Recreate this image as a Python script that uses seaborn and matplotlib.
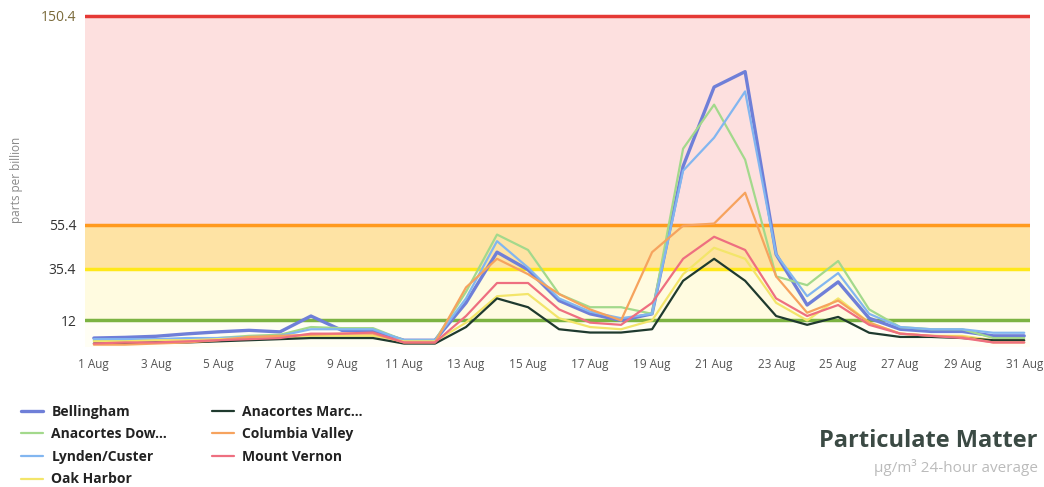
import matplotlib
matplotlib.use("Agg")
import matplotlib.pyplot as plt
import numpy as np
import pandas as pd
import seaborn as sns

sns.set_theme(style="white")
plt.rcParams["font.family"] = ["Open Sans", "DejaVu Sans"]

days = list(range(1, 32))
tick_days = list(range(1, 32, 2))
tick_labels = ["{} Aug".format(d) for d in tick_days]

stations = [
    "Bellingham", "Anacortes Dow...", "Lynden/Custer", "Oak Harbor",
    "Anacortes Marc...", "Columbia Valley", "Mount Vernon",
]

# daily 24-hour averages
bellingham = [4, 4.3, 4.8, 5.9, 6.8, 7.5, 6.8, 14, 7.5, 7.2, 3, 3,
              20, 43, 35, 21, 15, 12, 15, 82, 118, 125, 42, 19,
              29.5, 13, 8, 7, 7, 5, 5]
anacortes_dow = [3, 3, 3, 3, 4, 5, 5.5, 9, 8.5, 8.5, 3, 3,
                 25, 51, 44, 24, 18, 18, 15, 90, 110, 85, 32, 28,
                 39, 17, 9, 8, 8, 4, 4]
lynden = [3.5, 3.5, 3.5, 4, 4, 4.5, 5, 8, 8, 8, 3, 3,
          22, 48, 36, 22, 16, 13, 15, 80, 95, 116, 42, 23,
          33.5, 15, 9, 8, 8, 6.4, 6.4]
oak_harbor = [2.5, 2.5, 3, 3, 3.5, 4, 4, 5, 5, 5, 2.5, 2.5,
              11, 23, 24, 13, 9, 8, 12, 33, 45, 40, 20, 12,
              22, 11, 6, 5, 5, 3, 3]
anacortes_marc = [1.5, 1.5, 2, 2, 2.5, 3, 3.5, 4, 4, 4, 1.5, 1.5,
                  9, 22, 18, 8, 6.5, 6.5, 8, 30, 40, 30, 14, 10,
                  13.6, 6.4, 4.5, 4.5, 4, 3, 3]
columbia_valley = [1, 1, 1.5, 2, 3, 4.5, 5, 5.5, 6, 6, 2, 2,
                   27, 40, 33, 24, 17, 12, 43, 55, 56, 70, 32, 15.5,
                   21, 11, 6, 5, 4.5, 2, 2]
mount_vernon = [1.5, 2, 2, 2.5, 3, 3.5, 4, 6, 6, 6.5, 2, 2,
                14, 29, 29, 17, 11, 10, 20, 40, 50, 44, 22, 14,
                19, 10, 6, 5, 4, 2, 2]

series = [bellingham, anacortes_dow, lynden, oak_harbor,
          anacortes_marc, columbia_valley, mount_vernon]

palette = {
    "Bellingham": "#6f7fd8",
    "Anacortes Dow...": "#a3d98c",
    "Lynden/Custer": "#82b6f0",
    "Oak Harbor": "#f3e56a",
    "Anacortes Marc...": "#1f3a2e",
    "Columbia Valley": "#f6a35e",
    "Mount Vernon": "#ee6f80",
}

# AQI-style thresholds
levels = [12, 35.4, 55.4, 150.4]
level_colors = ["#7cb342", "#ffe81a", "#ff9a1f", "#e53935"]
band_colors = ["#fffef4", "#fffbe0", "#fee3a4", "#fde0df"]

rows = []
for name, vals in zip(stations, series):
    for d, v in zip(days, vals):
        rows.append({"Day": d, "Value": v, "Station": name})
data = pd.DataFrame(rows)

fig = plt.figure(figsize=(10.44, 4.87), dpi=100)
ax = fig.add_axes([0.081, 0.281, 0.906, 0.694])

lo = 0
for lvl, bc in zip(levels, band_colors):
    ax.axhspan(lo, lvl, color=bc, zorder=0, lw=0)
    lo = lvl
for lvl, lc in zip(levels, level_colors):
    ax.axhline(lvl, color=lc, lw=2.5, zorder=1)

sns.lineplot(
    x="Day", y="Value", hue="Station", data=data,
    palette=palette, hue_order=stations, lw=1.6, ax=ax, zorder=3,
)
# the Bellingham trace is drawn a bit heavier
for line in ax.get_lines():
    if line.get_color() == palette["Bellingham"]:
        line.set_linewidth(2.4)

ax.set_xlim(0.7, 31.2)
ax.set_ylim(-1.5, 152)
ax.set_xticks(tick_days)
ax.set_xticklabels(tick_labels, fontsize=8.5, color="#555555")
ax.set_yticks(levels)
ax.set_yticklabels(["12", "35.4", "55.4", "150.4"], fontsize=10, color="#333333")
ax.get_yticklabels()[3].set_color("#7a6a3a")
ax.tick_params(axis="both", length=0, pad=6)
ax.set_xlabel("")
ax.set_ylabel("")
for s in ax.spines.values():
    s.set_visible(False)

fig.text(0.016, 0.63, "parts per billion", rotation=90, ha="center",
         va="center", fontsize=8.5, color="#888888")

handles, labels = ax.get_legend_handles_labels()
ax.legend_.remove()
leg = fig.legend(
    handles, labels, loc="upper left", bbox_to_anchor=(0.008, 0.195),
    ncol=2, frameon=False, fontsize=10, handlelength=1.6,
    handletextpad=0.6, columnspacing=3.2, labelspacing=0.62,
)
for t in leg.get_texts():
    t.set_fontweight("bold")
    t.set_color("#222222")

fig.text(0.994, 0.094, "Particulate Matter", ha="right", va="center",
         fontsize=17, fontweight="bold", color="#3b4a44")
fig.text(0.994, 0.04, "\u00b5g/m\u00b3 24-hour average", ha="right",
         va="center", fontsize=11, color="#bbbbbb")

fig.savefig("out.png", dpi=100)
